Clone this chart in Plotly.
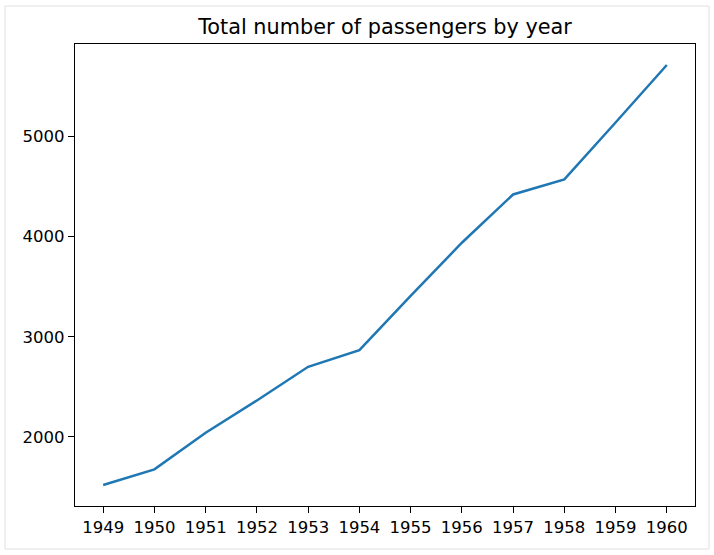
import plotly.graph_objects as go

years = [1949, 1950, 1951, 1952, 1953, 1954, 1955, 1956, 1957, 1958, 1959, 1960]
passengers = [1520, 1676, 2042, 2364, 2700, 2867, 3408, 3939, 4421, 4572, 5140, 5714]
title_text = "Total number of passengers by year"

W, H = 714, 555
L, R, T, B = 75, 19, 44, 49
pw, ph = W - L - R, H - T - B

fig = go.Figure()
fig.add_trace(go.Scatter(x=years, y=passengers, mode="lines",
                         line=dict(color="#1f77b4", width=2.5), showlegend=False))

axis_common = dict(showgrid=False, zeroline=False, showline=True, linecolor="black",
                   linewidth=1.3, mirror=True, ticks="outside", ticklen=6, tickwidth=1.3,
                   tickcolor="black", tickfont=dict(family="DejaVu Sans", size=16.5, color="black"))

span = max(passengers) - min(passengers)
fig.update_xaxes(range=[1949 - 0.55, 1960 + 0.55], tickmode="array", tickvals=years,
                 ticktext=[str(y) for y in years], **axis_common)
fig.update_yaxes(range=[min(passengers) - 0.05 * span, max(passengers) + 0.05 * span],
                 tickmode="array", tickvals=[2000, 3000, 4000, 5000], **axis_common)

# figure border
fig.add_shape(type="rect", xref="paper", yref="paper",
              x0=(5 - L) / pw, x1=(709 - L) / pw,
              y0=(H - B - 549) / ph, y1=(H - B - 6) / ph,
              line=dict(color="#e0e0e0", width=1), layer="below")

fig.update_layout(
    width=W, height=H,
    margin=dict(l=L, r=R, t=T, b=B),
    paper_bgcolor="white", plot_bgcolor="white",
    font=dict(family="DejaVu Sans", color="black"),
    title=dict(text=title_text, x=0.5, xref="paper", y=1 - 27 / H, yref="container",
               xanchor="center", yanchor="middle",
               font=dict(family="DejaVu Sans", size=20.8, color="black")),
)

fig.write_html("out.html", config={"displayModeBar": False},
               post_script="document.body.style.margin='0';")
